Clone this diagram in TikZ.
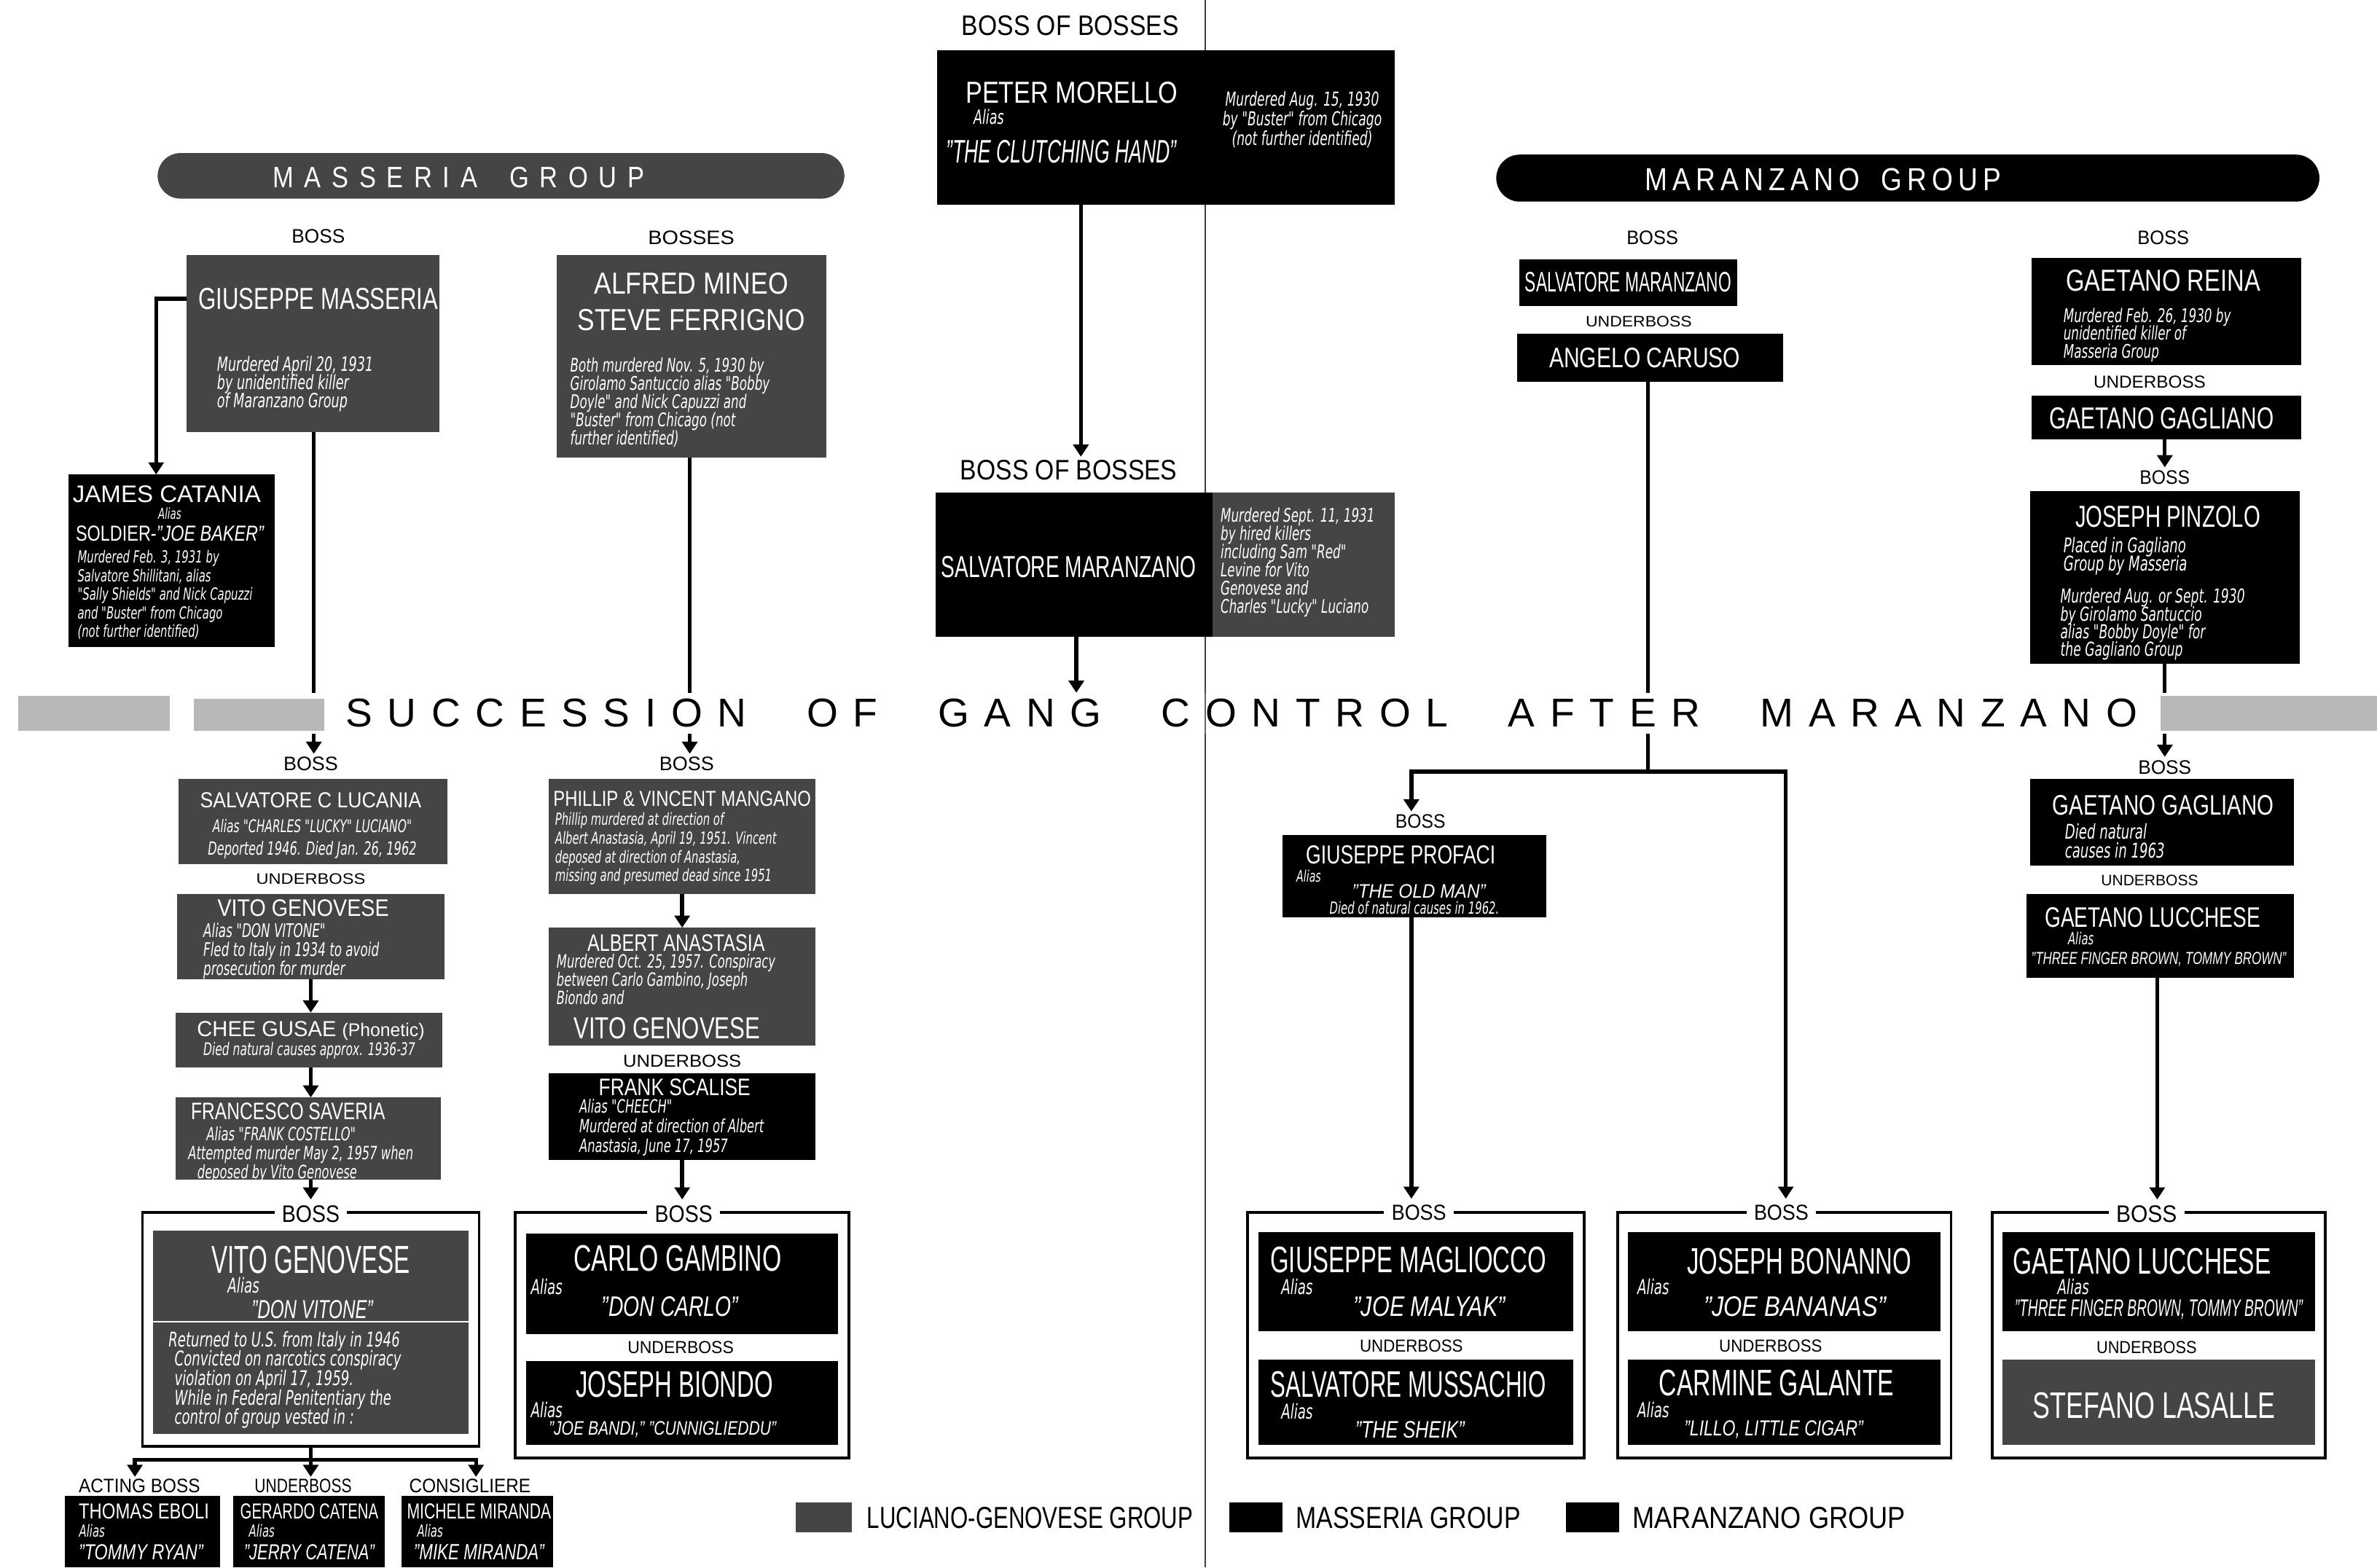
\documentclass[tikz,border=0pt]{standalone}
\usepackage{graphicx}
\usepackage{fontspec}
\setmainfont{Liberation Sans}[FakeStretch=0.85]
\newfontfamily\nfont{DejaVu Sans}[FakeStretch=0.65]
\newfontfamily\wfont{Liberation Sans}
\usetikzlibrary{arrows.meta}
\definecolor{grain}{gray}{0.27}
\lineskiplimit=-20pt
\newcommand\fsz[2]{\fontsize{#1}{#2}\selectfont}
\newcommand\rsz[3]{\resizebox{#1pt}{#2pt}{#3}}
\newcommand\mkbox[6]{\node[#6,anchor=north west,minimum width={#4-#2},minimum height={#5-#3}] (#1) at (#2,#3) {};}
\newcommand\mkname[6]{\node[nmw,anchor=base] (#1) at (#2,#3) {\rsz{#4}{#5}{#6}};}
\newcommand\mklab[6]{\node[lbk,anchor=base] (#1) at (#2,#3) {\rsz{#4}{#5}{#6}};}
\newcommand\mkflab[6]{\node[flb,anchor=base] (#1) at (#2,#3) {\rsz{#4}{#5}{#6}};}
\tikzset{
 blk/.style={fill=black,draw=none,inner sep=0pt,outer sep=0pt},
 gry/.style={fill=grain,draw=none,inner sep=0pt,outer sep=0pt},
 frm/.style={draw=black,line width=1.8pt,inner sep=0pt,outer sep=0pt},
 nmw/.style={text=white,inner sep=0pt},
 lbk/.style={text=black,inner sep=0pt},
 flb/.style={text=black,fill=white,inner xsep=5pt,inner ysep=2pt},
 con/.style={line width=2.6pt},
 arr/.style={line width=2.6pt,-{Triangle[width=10pt,length=8pt]}},
 nt/.style 2 args={text=white,inner sep=0pt,align=left,font=\nfont\itshape\fsz{#1}{#2}},
}
\begin{document}
\begin{tikzpicture}[x=1pt,y=-1pt]
\useasboundingbox (0,0) rectangle (1568,1034);
\fill[white] (0,0) rectangle (1568,1034);
% page fold
\draw[line width=0.7pt,black!75] (795,0) -- (795,1034);

% group banners
\node[gry,rounded corners=15pt,anchor=north west,minimum width=453,minimum height=30] (massban) at (104,101) {};
\node[blk,rounded corners=15.5pt,anchor=north west,minimum width=543,minimum height=31] (maraban) at (987,102) {};
\node[nmw,anchor=base] (masstxt) at (302.5,124) {\fsz{19.5}{20}\makebox[245pt][s]{M\hfill A\hfill S\hfill S\hfill E\hfill R\hfill I\hfill A\hfill\hfill\hfill G\hfill R\hfill O\hfill U\hfill P}};
\node[nmw,anchor=base] (maratxt) at (1202.5,125.5) {\fsz{21}{22}\makebox[235pt][s]{M\hfill A\hfill R\hfill A\hfill N\hfill Z\hfill A\hfill N\hfill O\hfill\hfill\hfill\hfill G\hfill R\hfill O\hfill U\hfill P}};

% boxes
\mkbox{morello}{618}{33}{920}{135}{blk}
\mkbox{bob}{617}{325}{920}{420}{blk}
\mkbox{bobr}{800}{325}{920}{420}{gry}
\mkbox{masseria}{123}{168}{290}{285}{gry}
\mkbox{catania}{45}{313}{181}{427}{blk}
\mkbox{mineo}{367}{168}{545}{302}{gry}
\mkbox{lucania}{118}{514}{295}{570}{gry}
\mkbox{genovese}{117}{590}{293}{646}{gry}
\mkbox{gusae}{116}{668}{292}{704}{gry}
\mkbox{saveria}{116}{724}{291}{778}{gry}
\mkbox{vgframe}{94}{800}{316}{954}{frm}
\mkbox{vgbox}{101}{812}{309}{946}{gry}
\mkbox{eboli}{43}{987}{145}{1034}{blk}
\mkbox{catena}{154}{987}{254}{1034}{blk}
\mkbox{miranda}{265}{987}{365}{1034}{blk}
\mkbox{mangano}{362}{514}{538}{590}{gry}
\mkbox{anastasia}{362}{612}{538}{690}{gry}
\mkbox{scalise}{362}{708}{538}{765}{blk}
\mkbox{gframe}{340}{800}{560}{962}{frm}
\mkbox{gambino}{347}{814}{553}{880}{blk}
\mkbox{biondo}{347}{898}{553}{953}{blk}
\mkbox{maranzano}{1002}{171}{1146}{202}{blk}
\mkbox{caruso}{1001}{220}{1176}{252}{blk}
\mkbox{reina}{1340}{170}{1518}{241}{blk}
\mkbox{gagliano}{1340}{261}{1518}{290}{blk}
\mkbox{pinzolo}{1339}{324}{1517}{438}{blk}
\mkbox{gaglianob}{1339}{514}{1513}{571}{blk}
\mkbox{lucchese}{1337}{590}{1513}{645}{blk}
\mkbox{profaci}{846}{551}{1020}{605}{blk}
\mkbox{mframe}{823}{800}{1045}{962}{frm}
\mkbox{magliocco}{830}{813}{1038}{878}{blk}
\mkbox{mussachio}{830}{897}{1038}{953}{blk}
\mkbox{bframe}{1067}{800}{1287}{962}{frm}
\mkbox{bonanno}{1074}{813}{1280}{878}{blk}
\mkbox{galante}{1074}{897}{1280}{953}{blk}
\mkbox{lframe}{1314}{800}{1534}{962}{frm}
\mkbox{luccheseb}{1321}{813}{1527}{878}{blk}
\mkbox{lasalle}{1321}{897}{1527}{953}{gry}
\mkbox{lg1}{525}{991}{562}{1011}{gry}
\mkbox{lg2}{811}{991}{846}{1011}{blk}
\mkbox{lg3}{1033}{991}{1068}{1011}{blk}
\coordinate (dv) at (0,872);
\draw[white,line width=1pt] (vgbox.west |- dv) -- (vgbox.east |- dv);

% black labels
\mklab{tl1}{706}{23.5}{143}{13}{BOSS OF BOSSES}
\mklab{bobl2}{705}{316.5}{143}{13}{BOSS OF BOSSES}
\mklab{bl1}{210}{160.5}{35}{9}{BOSS}
\mklab{bl2}{456}{161.5}{57}{9}{BOSSES}
\mklab{bl3}{1090}{161.5}{34}{9}{BOSS}
\mklab{bl4}{1427}{161.5}{34}{9}{BOSS}
\mklab{ul1}{1081}{215.5}{70}{7}{UNDERBOSS}
\mklab{ul2}{1418}{256}{74}{8}{UNDERBOSS}
\mklab{bl5}{1428}{319.5}{33}{9}{BOSS}
\mklab{bl6}{205}{508.5}{36}{9}{BOSS}
\mklab{bl7}{453}{508.5}{36}{9}{BOSS}
\mklab{bl8}{1428}{510.5}{35}{9}{BOSS}
\mklab{bl9}{937}{546.5}{33}{9}{BOSS}
\mklab{ul3}{205}{583.5}{72}{7}{UNDERBOSS}
\mklab{ul4}{450}{704}{78}{8}{UNDERBOSS}
\mklab{ul5}{1418}{584.5}{64}{7}{UNDERBOSS}
\mkflab{fl1}{205}{806.5}{38}{11}{BOSS}
\mkflab{fl2}{451}{806.5}{38}{11}{BOSS}
\mkflab{fl3}{936}{805}{36}{10}{BOSS}
\mkflab{fl4}{1175}{805}{36}{10}{BOSS}
\mkflab{fl5}{1416}{806.5}{40}{11}{BOSS}
\mklab{ul6}{449}{893}{70}{8}{UNDERBOSS}
\mklab{ul7}{931}{892}{68}{8}{UNDERBOSS}
\mklab{ul8}{1168}{892}{68}{8}{UNDERBOSS}
\mklab{ul9}{1416}{893}{66}{8}{UNDERBOSS}
\mklab{actl}{92}{984.5}{80}{9}{ACTING BOSS}
\mklab{ubl}{200}{984.5}{64}{9}{UNDERBOSS}
\mklab{consl}{310}{984.5}{80}{9}{CONSIGLIERE}
\mklab{lgt1}{679.5}{1008}{215}{14}{LUCIANO-GENOVESE GROUP}
\mklab{lgt2}{929}{1008}{148}{14}{MASSERIA GROUP}
\mklab{lgt3}{1167}{1008}{180}{14}{MARANZANO GROUP}

% white names
\mkname{morn}{707}{68}{140}{14}{PETER MORELLO}
\mkname{clutch}{700}{107.5}{152}{15}{\itshape"THE CLUTCHING HAND"}
\mkname{bobn}{705}{381}{168}{14}{SALVATORE MARANZANO}
\mkname{massn}{210}{204}{158}{14}{GIUSEPPE MASSERIA}
\mkname{mineon}{456}{194}{128}{14}{ALFRED MINEO}
\mkname{ferrn}{456}{218}{150}{14}{STEVE FERRIGNO}
\mkname{catn}{110}{331.5}{124}{11}{JAMES CATANIA}
\mkname{soldn}{112}{357}{124}{10}{SOLDIER-\itshape"JOE BAKER"}
\mkname{lucn}{205}{533}{146}{10}{SALVATORE C LUCANIA}
\mkname{genn}{200}{604.5}{113}{11}{VITO GENOVESE}
\mkname{gusn}{205}{684}{150}{10}{CHEE GUSAE {\fsz{8.5}{9}(Phonetic)}}
\mkname{savn}{190}{738.5}{128}{11}{FRANCESCO SAVERIA}
\mkname{vgn}{205}{840}{131}{18}{VITO GENOVESE}
\mkname{vgal}{206}{870}{80}{12}{\itshape"DON VITONE"}
\mkname{ebn}{95}{1002}{86}{10}{THOMAS EBOLI}
\mkname{catenan}{204}{1002}{91}{10}{GERARDO CATENA}
\mkname{mirn}{316}{1002}{95}{10}{MICHELE MIRANDA}
\mkname{ebal}{93}{1029}{82}{10}{\itshape"TOMMY RYAN"}
\mkname{catal}{204}{1029}{86}{10}{\itshape"JERRY CATENA"}
\mkname{miral}{316}{1029}{86}{10}{\itshape"MIKE MIRANDA"}
\mkname{mangn}{450}{532}{170}{10}{PHILLIP \& VINCENT MANGANO}
\mkname{anan}{446}{627.5}{117}{11}{ALBERT ANASTASIA}
\mkname{vgn2}{440}{685}{123}{14}{VITO GENOVESE}
\mkname{scan}{445}{722.5}{100}{11}{FRANK SCALISE}
\mkname{gamn}{447}{838.5}{137}{17}{CARLO GAMBINO}
\mkname{gamal}{442}{868.5}{90}{13}{\itshape"DON CARLO"}
\mkname{bion}{445}{921.5}{130}{17}{JOSEPH BIONDO}
\mkname{bioal}{437}{946.5}{150}{9}{\itshape"JOE BANDI," "CUNNIGLIEDDU"}
\mkname{maran}{1074}{192.5}{136}{13}{SALVATORE MARANZANO}
\mkname{carn}{1085}{242.5}{126}{13}{ANGELO CARUSO}
\mkname{rein}{1427}{192}{128}{14}{GAETANO REINA}
\mkname{gagn}{1426}{283}{148}{14}{GAETANO GAGLIANO}
\mkname{pinn}{1430}{348}{122}{14}{JOSEPH PINZOLO}
\mkname{gagn2}{1427}{537.5}{146}{13}{GAETANO GAGLIANO}
\mkname{lucchn}{1420}{611.5}{142}{13}{GAETANO LUCCHESE}
\mkname{lucchal}{1424}{636}{168}{8}{\itshape"THREE FINGER BROWN, TOMMY BROWN"}
\mkname{profn}{924}{570}{125}{12}{GIUSEPPE PROFACI}
\mkname{profal}{936}{592.5}{88}{9}{\itshape"THE OLD MAN"}
\mkname{magn}{929}{839.5}{182}{17}{GIUSEPPE MAGLIOCCO}
\mkname{magal}{943}{868.5}{100}{13}{\itshape"JOE MALYAK"}
\mkname{musn}{929}{921.5}{182}{17}{SALVATORE MUSSACHIO}
\mkname{musal}{930}{948.5}{72}{11}{\itshape"THE SHEIK"}
\mkname{bonn}{1187}{840.5}{148}{17}{JOSEPH BONANNO}
\mkname{bonal}{1184}{868.5}{120}{13}{\itshape"JOE BANANAS"}
\mkname{galn}{1172}{920.5}{155}{17}{CARMINE GALANTE}
\mkname{galal}{1170}{947}{118}{10}{\itshape"LILLO, LITTLE CIGAR"}
\mkname{lucchn2}{1413}{840.5}{170}{17}{GAETANO LUCCHESE}
\mkname{lucchal2}{1424}{868.5}{190}{11}{\itshape"THREE FINGER BROWN, TOMMY BROWN"}
\mkname{lasn}{1421}{935.5}{160}{17}{STEFANO LASALLE}

% notes
\node[nt={12.7}{13},align=center,anchor=north] (morno) at (859,60) {Murdered Aug. 15, 1930\\by "Buster" from Chicago\\(not further identified)};
\node[nt={13}{12},anchor=west] (moral) at (642,77) {Alias};
\node[nt={12.4}{12},anchor=north west] (bobno) at (805,335) {Murdered Sept. 11, 1931\\by hired killers\\including Sam "Red"\\Levine for Vito\\Genovese and\\Charles "Lucky" Luciano};
\node[nt={13}{12},anchor=north west] (massno) at (143,235) {Murdered April 20, 1931\\by unidentified killer\\of Maranzano Group};
\node[nt={12.4}{12},anchor=north west] (mineono) at (376,236) {Both murdered Nov. 5, 1930 by\\Girolamo Santuccio alias "Bobby\\Doyle" and Nick Capuzzi and\\"Buster" from Chicago (not\\further identified)};
\node[nt={9.9}{9}] (catalias) at (112,339) {Alias};
\node[nt={11}{12.2},anchor=north west] (catno) at (51,363) {Murdered Feb. 3, 1931 by\\Salvatore Shillitani, alias\\"Sally Shields" and Nick Capuzzi\\and "Buster" from Chicago\\(not further identified)};
\node[nt={11.5}{10}] (lucal) at (206,545) {Alias "CHARLES "LUCKY" LUCIANO"};
\node[nt={12}{10}] (lucno) at (206,561) {Deported 1946. Died Jan. 26, 1962};
\node[nt={12.4}{12.5},anchor=north west] (genno) at (134,609) {Alias "DON VITONE"\\Fled to Italy in 1934 to avoid\\prosecution for murder};
\node[nt={11.5}{10}] (gusno) at (204,693) {Died natural causes approx. 1936-37};
\node[nt={12.1}{12.5},anchor=north west] (savno) at (124,743) {\hspace*{12pt}Alias "FRANK COSTELLO"\\Attempted murder May 2, 1957 when\\\hspace*{6pt}deposed by Vito Genovese};
\node[nt={13.5}{12},anchor=west] (vgalias) at (150,848) {Alias};
\node[nt={13.4}{12.8},anchor=north west] (vgno) at (111,878) {Returned to U.S. from Italy in 1946\\\hspace*{4pt}Convicted on narcotics conspiracy\\\hspace*{4pt}violation on April 17, 1959.\\\hspace*{4pt}While in Federal Penitentiary the\\\hspace*{4pt}control of group vested in :};
\node[nt={11}{10},anchor=west] (ebalias) at (52,1010) {Alias};
\node[nt={11}{10},anchor=west] (catenaalias) at (164,1010) {Alias};
\node[nt={11}{10},anchor=west] (miralias) at (275,1010) {Alias};
\node[nt={11}{12.3},anchor=north west] (mangno) at (366,536) {Phillip murdered at direction of\\Albert Anastasia, April 19, 1951. Vincent\\deposed at direction of Anastasia,\\missing and presumed dead since 1951};
\node[nt={12.1}{12},anchor=north west] (anano) at (367,629) {Murdered Oct. 25, 1957. Conspiracy\\between Carlo Gambino, Joseph\\Biondo and};
\node[nt={12.1}{13},anchor=north west] (scano) at (382,725) {Alias "CHEECH"\\Murdered at direction of Albert\\Anastasia, June 17, 1957};
\node[nt={13.5}{12},anchor=west] (gamalias) at (350,849) {Alias};
\node[nt={13.5}{12},anchor=west] (bioalias) at (350,930) {Alias};
\node[nt={12.4}{11.7},anchor=north west] (reinno) at (1361,203) {Murdered Feb. 26, 1930 by\\unidentified killer of\\Masseria Group};
\node[nt={13.4}{12},anchor=north west] (pinno1) at (1361,354) {Placed in Gagliano\\Group by Masseria};
\node[nt={12.7}{11.7},anchor=north west] (pinno2) at (1359,388) {Murdered Aug. or Sept. 1930\\by Girolamo Santuccio\\alias "Bobby Doyle" for\\the Gagliano Group};
\node[nt={13.4}{12.5},anchor=north west] (gagno) at (1362,543) {Died natural\\causes in 1963};
\node[nt={11}{10},anchor=west] (lucalias) at (1364,619) {Alias};
\node[nt={10.5}{10},anchor=west] (profalias) at (855,578) {Alias};
\node[nt={11}{10}] (profno) at (933,599) {Died of natural causes in 1962.};
\node[nt={13.5}{12},anchor=west] (magalias) at (845,849) {Alias};
\node[nt={13.5}{12},anchor=west] (musalias) at (845,931) {Alias};
\node[nt={13.5}{12},anchor=west] (bonalias) at (1080,849) {Alias};
\node[nt={13.5}{12},anchor=west] (galalias) at (1080,930) {Alias};
\node[nt={13.5}{12},anchor=west] (lucalias2) at (1357,849) {Alias};

% connectors
\coordinate (c1) at (103,197);
\coordinate (x207) at (207,0);
\coordinate (x455) at (455,0);
\coordinate (x713) at (713,0);
\coordinate (x710) at (710,0);
\coordinate (bandtop) at (0,457);
\coordinate (j1) at (1087,509);
\coordinate (jl) at (931,509);
\coordinate (jr) at (1178,509);
\coordinate (x1428) at (1428,0);
\coordinate (x205) at (205,0);
\coordinate (x450) at (450,0);
\coordinate (x931) at (931,0);
\coordinate (x1423) at (1423,0);
\coordinate (vb) at (205,963);
\coordinate (x89) at (89,0);
\coordinate (x314) at (314,0);

\draw[arr,shorten >=2pt] (x713 |- morello.south) -- (x713 |- bobl2.north);
\draw[arr] (x710 |- bob.south) -- (x710 |- bandtop);
\draw[arr] (masseria.west |- c1) -- (c1) -- (c1 |- catania.north);
\draw[arr,shorten >=2pt] (x207 |- masseria.south) -- (x207 |- bl6.north);
\draw[arr,shorten >=2pt] (x455 |- mineo.south) -- (x455 |- bl7.north);
\draw[con] (j1 |- caruso.south) -- (j1);
\draw[arr,shorten >=2pt] (j1) -- (jl) -- (jl |- bl9.north);
\draw[arr,shorten >=2pt] (j1) -- (jr) -- (jr |- fl4.north);
\draw[arr,shorten >=2pt] (x1428 |- gagliano.south) -- (x1428 |- bl5.north);
\draw[arr,shorten >=2pt] (x1428 |- pinzolo.south) -- (x1428 |- bl8.north);
\draw[arr] (x205 |- genovese.south) -- (x205 |- gusae.north);
\draw[arr] (x205 |- gusae.south) -- (x205 |- saveria.north);
\draw[arr,shorten >=2pt] (x205 |- saveria.south) -- (x205 |- fl1.north);
\draw[arr] (x450 |- mangano.south) -- (x450 |- anastasia.north);
\draw[arr,shorten >=2pt] (x450 |- scalise.south) -- (x450 |- fl2.north);
\draw[arr,shorten >=2pt] (x931 |- profaci.south) -- (x931 |- fl3.north);
\draw[arr,shorten >=2pt] (x1423 |- lucchese.south) -- (x1423 |- fl5.north);
\draw[con] (vgframe.south) -- (vb);
\draw[arr,shorten >=1pt] (vb) -- (vb -| x89) -- (x89 |- actl.north);
\draw[arr,shorten >=1pt] (vb) -- (vb |- ubl.north);
\draw[arr,shorten >=1pt] (vb) -- (vb -| x314) -- (x314 |- consl.north);

% succession band
\fill[white] (0,457) rectangle (1568,484);
\fill[black!28] (12,459) rectangle (112,482);
\fill[black!28] (128,461) rectangle (214,482);
\fill[black!28] (1425,459) rectangle (1568,482);
\draw[line width=0.6pt,black!60] (795,457) -- (795,484);
\node[lbk,anchor=base] (succ) at (819,479.5) {\wfont\fsz{26.5}{27}\makebox[1182pt][s]{S\hfill U\hfill C\hfill C\hfill E\hfill S\hfill S\hfill I\hfill O\hfill N\hfill\hfill\hfill\hfill O\hfill F\hfill\hfill\hfill\hfill G\hfill A\hfill N\hfill G\hfill\hfill\hfill\hfill C\hfill O\hfill N\hfill T\hfill R\hfill O\hfill L\hfill\hfill\hfill\hfill A\hfill F\hfill T\hfill E\hfill R\hfill\hfill\hfill\hfill M\hfill A\hfill R\hfill A\hfill N\hfill Z\hfill A\hfill N\hfill O}};
\end{tikzpicture}
\end{document}
